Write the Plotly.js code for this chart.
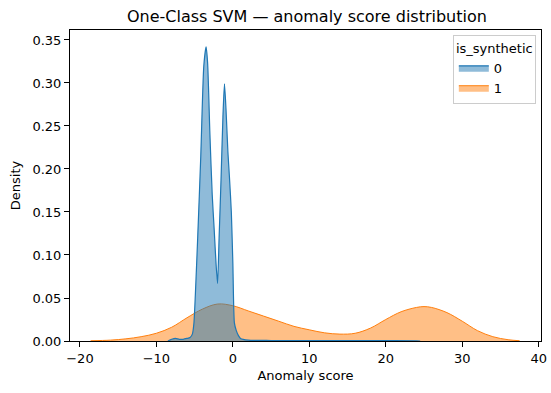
<!DOCTYPE html>
<html>
<head>
<meta charset="utf-8">
<script src="https://cdn.plot.ly/plotly-3.0.1.min.js"></script>
<style>body{margin:0;padding:0;background:#fff}#chart{width:551px;height:393px}</style>
</head>
<body>
<div id="chart"></div>
<script>
// Series 0 (is_synthetic = 0): KDE curve
const x0 = [-8.5, -8.0, -7.5, -7.0, -6.5, -6.0, -5.6, -5.3, -5.1, -4.9, -4.6, -4.2, -3.8, -3.5, -3.3, -3.0, -2.7, -2.44, -2.2, -2.0, -1.8, -1.55, -1.3, -1.1, -0.9, -0.65, -0.45, -0.2, 0.0, 0.2, 0.45, 0.75, 1.0, 2.0, 5.0, 10.0, 15.0, 20.0, 24.0, 24.5];
const y0 = [0.0, 0.002, 0.003, 0.002, 0.002, 0.003, 0.004, 0.008, 0.02, 0.055, 0.12, 0.214, 0.32, 0.342, 0.323, 0.24, 0.17, 0.129, 0.09, 0.067, 0.12, 0.187, 0.26, 0.299, 0.27, 0.22, 0.191, 0.15, 0.09, 0.021, 0.012, 0.006, 0.003, 0.001, 0.0006, 0.0005, 0.0004, 0.0004, 0.0003, 0.0];
// Series 1 (is_synthetic = 1)
const x1 = [-18.6, -16, -14, -12, -10, -8, -6, -4, -2, 0, 2, 4, 6, 8, 10, 12, 14, 16, 18, 20, 22, 24, 25, 26, 28, 30, 32, 34, 36, 37.5];
const y1 = [0.0003, 0.001, 0.0025, 0.005, 0.009, 0.016, 0.027, 0.037, 0.043, 0.041, 0.035, 0.029, 0.023, 0.017, 0.013, 0.0095, 0.008, 0.009, 0.015, 0.025, 0.034, 0.039, 0.040, 0.039, 0.033, 0.023, 0.012, 0.005, 0.0015, 0.0003];
const legendTitle = "is_synthetic";
const names = ["0", "1"];

const font = {family: "DejaVu Sans, sans-serif", size: 13, color: "#000"};
const traces = [
  {x: x1, y: y1, name: names[1], type: "scatter", mode: "lines", fill: "tozeroy",
   line: {color: "#ff7f0e", width: 1, shape: "spline", smoothing: 1}, fillcolor: "rgba(255,127,14,0.5)", legendrank: 2},
  {x: x0, y: y0, name: names[0], type: "scatter", mode: "lines", fill: "tozeroy",
   line: {color: "#1f77b4", width: 1.2, shape: "spline", smoothing: 0.6}, fillcolor: "rgba(31,119,180,0.5)", legendrank: 1}
];
const layout = {
  width: 551, height: 393,
  margin: {l: 70, r: 10, t: 30, b: 52},
  paper_bgcolor: "#fff", plot_bgcolor: "#fff",
  font: font,
  title: {text: "One-Class SVM — anomaly score distribution", font: {family: font.family, size: 16, color: "#000"}, x: 0.557, xanchor: "center", y: 0.957, yanchor: "middle"},
  xaxis: {range: [-21.3, 40.3], tickvals: [-20, -10, 0, 10, 20, 30, 40], ticktext: ["−20", "−10", "0", "10", "20", "30", "40"],
    showline: true, mirror: true, linecolor: "#000", linewidth: 1, ticks: "outside", ticklen: 5, tickcolor: "#000",
    showgrid: false, zeroline: false, tickfont: font,
    title: {text: "Anomaly score", font: font, standoff: 6}},
  yaxis: {range: [0, 0.3616], tickvals: [0, 0.05, 0.1, 0.15, 0.2, 0.25, 0.3, 0.35], tickformat: ".2f",
    showline: true, mirror: true, linecolor: "#000", linewidth: 1, ticks: "outside", ticklen: 5, tickcolor: "#000",
    showgrid: false, zeroline: false, tickfont: font,
    title: {text: "Density", font: font, standoff: 8}},
  legend: {x: 0.989, y: 0.984, xanchor: "right", yanchor: "top", bgcolor: "rgba(255,255,255,0.8)",
    bordercolor: "#cccccc", borderwidth: 1, font: font, traceorder: "normal",
    title: {text: legendTitle, font: font, side: "top center"}},
  showlegend: true
};
Plotly.newPlot("chart", traces, layout, {staticPlot: true, displayModeBar: false});
</script>
</body>
</html>
